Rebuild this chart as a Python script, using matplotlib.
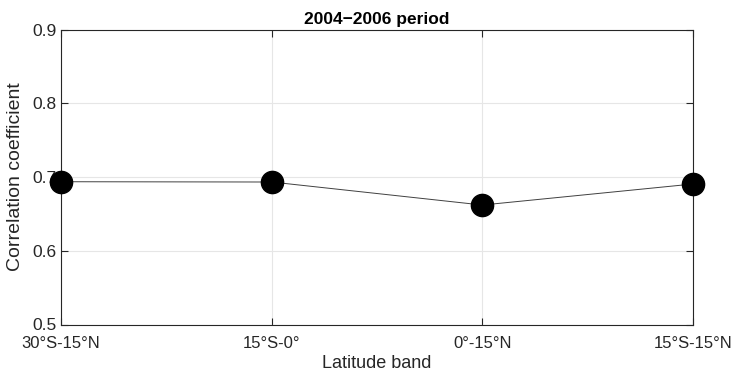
import matplotlib
matplotlib.use("Agg")
import matplotlib.pyplot as plt

plt.rcParams['font.family'] = ['Liberation Sans', 'DejaVu Sans']

bands = ["30°S-15°N", "15°S-0°", "0°-15°N", "15°S-15°N"]
corr = [0.6936, 0.6932, 0.662, 0.6905]
yticks = [0.5, 0.6, 0.7, 0.8, 0.9]

fig = plt.figure(figsize=(7.32, 3.74), dpi=100)
ax = fig.add_axes([61/732, 1 - 324.5/374, (693-61)/732, (324.5-29.5)/374])

x = list(range(len(bands)))
ax.plot(x, corr, color='#404040', linewidth=0.7, zorder=3, clip_on=False)
ax.plot(x, corr, 'o', color='black', markersize=16, zorder=4, clip_on=False)

ax.set_xlim(0, len(bands) - 1)
ax.set_ylim(0.5, 0.9)
ax.set_xticks(x)
ax.set_xticklabels(bands)
ax.set_yticks(yticks)
ax.set_yticklabels([f"{v:.1f}" for v in yticks])
ax.grid(True, color='#e6e6e6', linewidth=0.8)
ax.set_axisbelow(True)
ax.tick_params(direction='in', top=True, right=True, length=5, width=0.8,
               colors='#262626')
ax.tick_params(axis='x', pad=8, labelsize=12)
ax.tick_params(axis='y', pad=3, labelsize=12.5)
for s in ax.spines.values():
    s.set_color('#262626')
    s.set_linewidth(0.8)

ax.set_xlabel("Latitude band", fontsize=13, color='#262626', labelpad=3)
ax.set_ylabel("Correlation coefficient", fontsize=14, color='#262626', labelpad=6)
ax.set_title("2004\u22122006 period", fontsize=12.5, fontweight='bold', pad=4)

fig.savefig("out.png", dpi=100)
